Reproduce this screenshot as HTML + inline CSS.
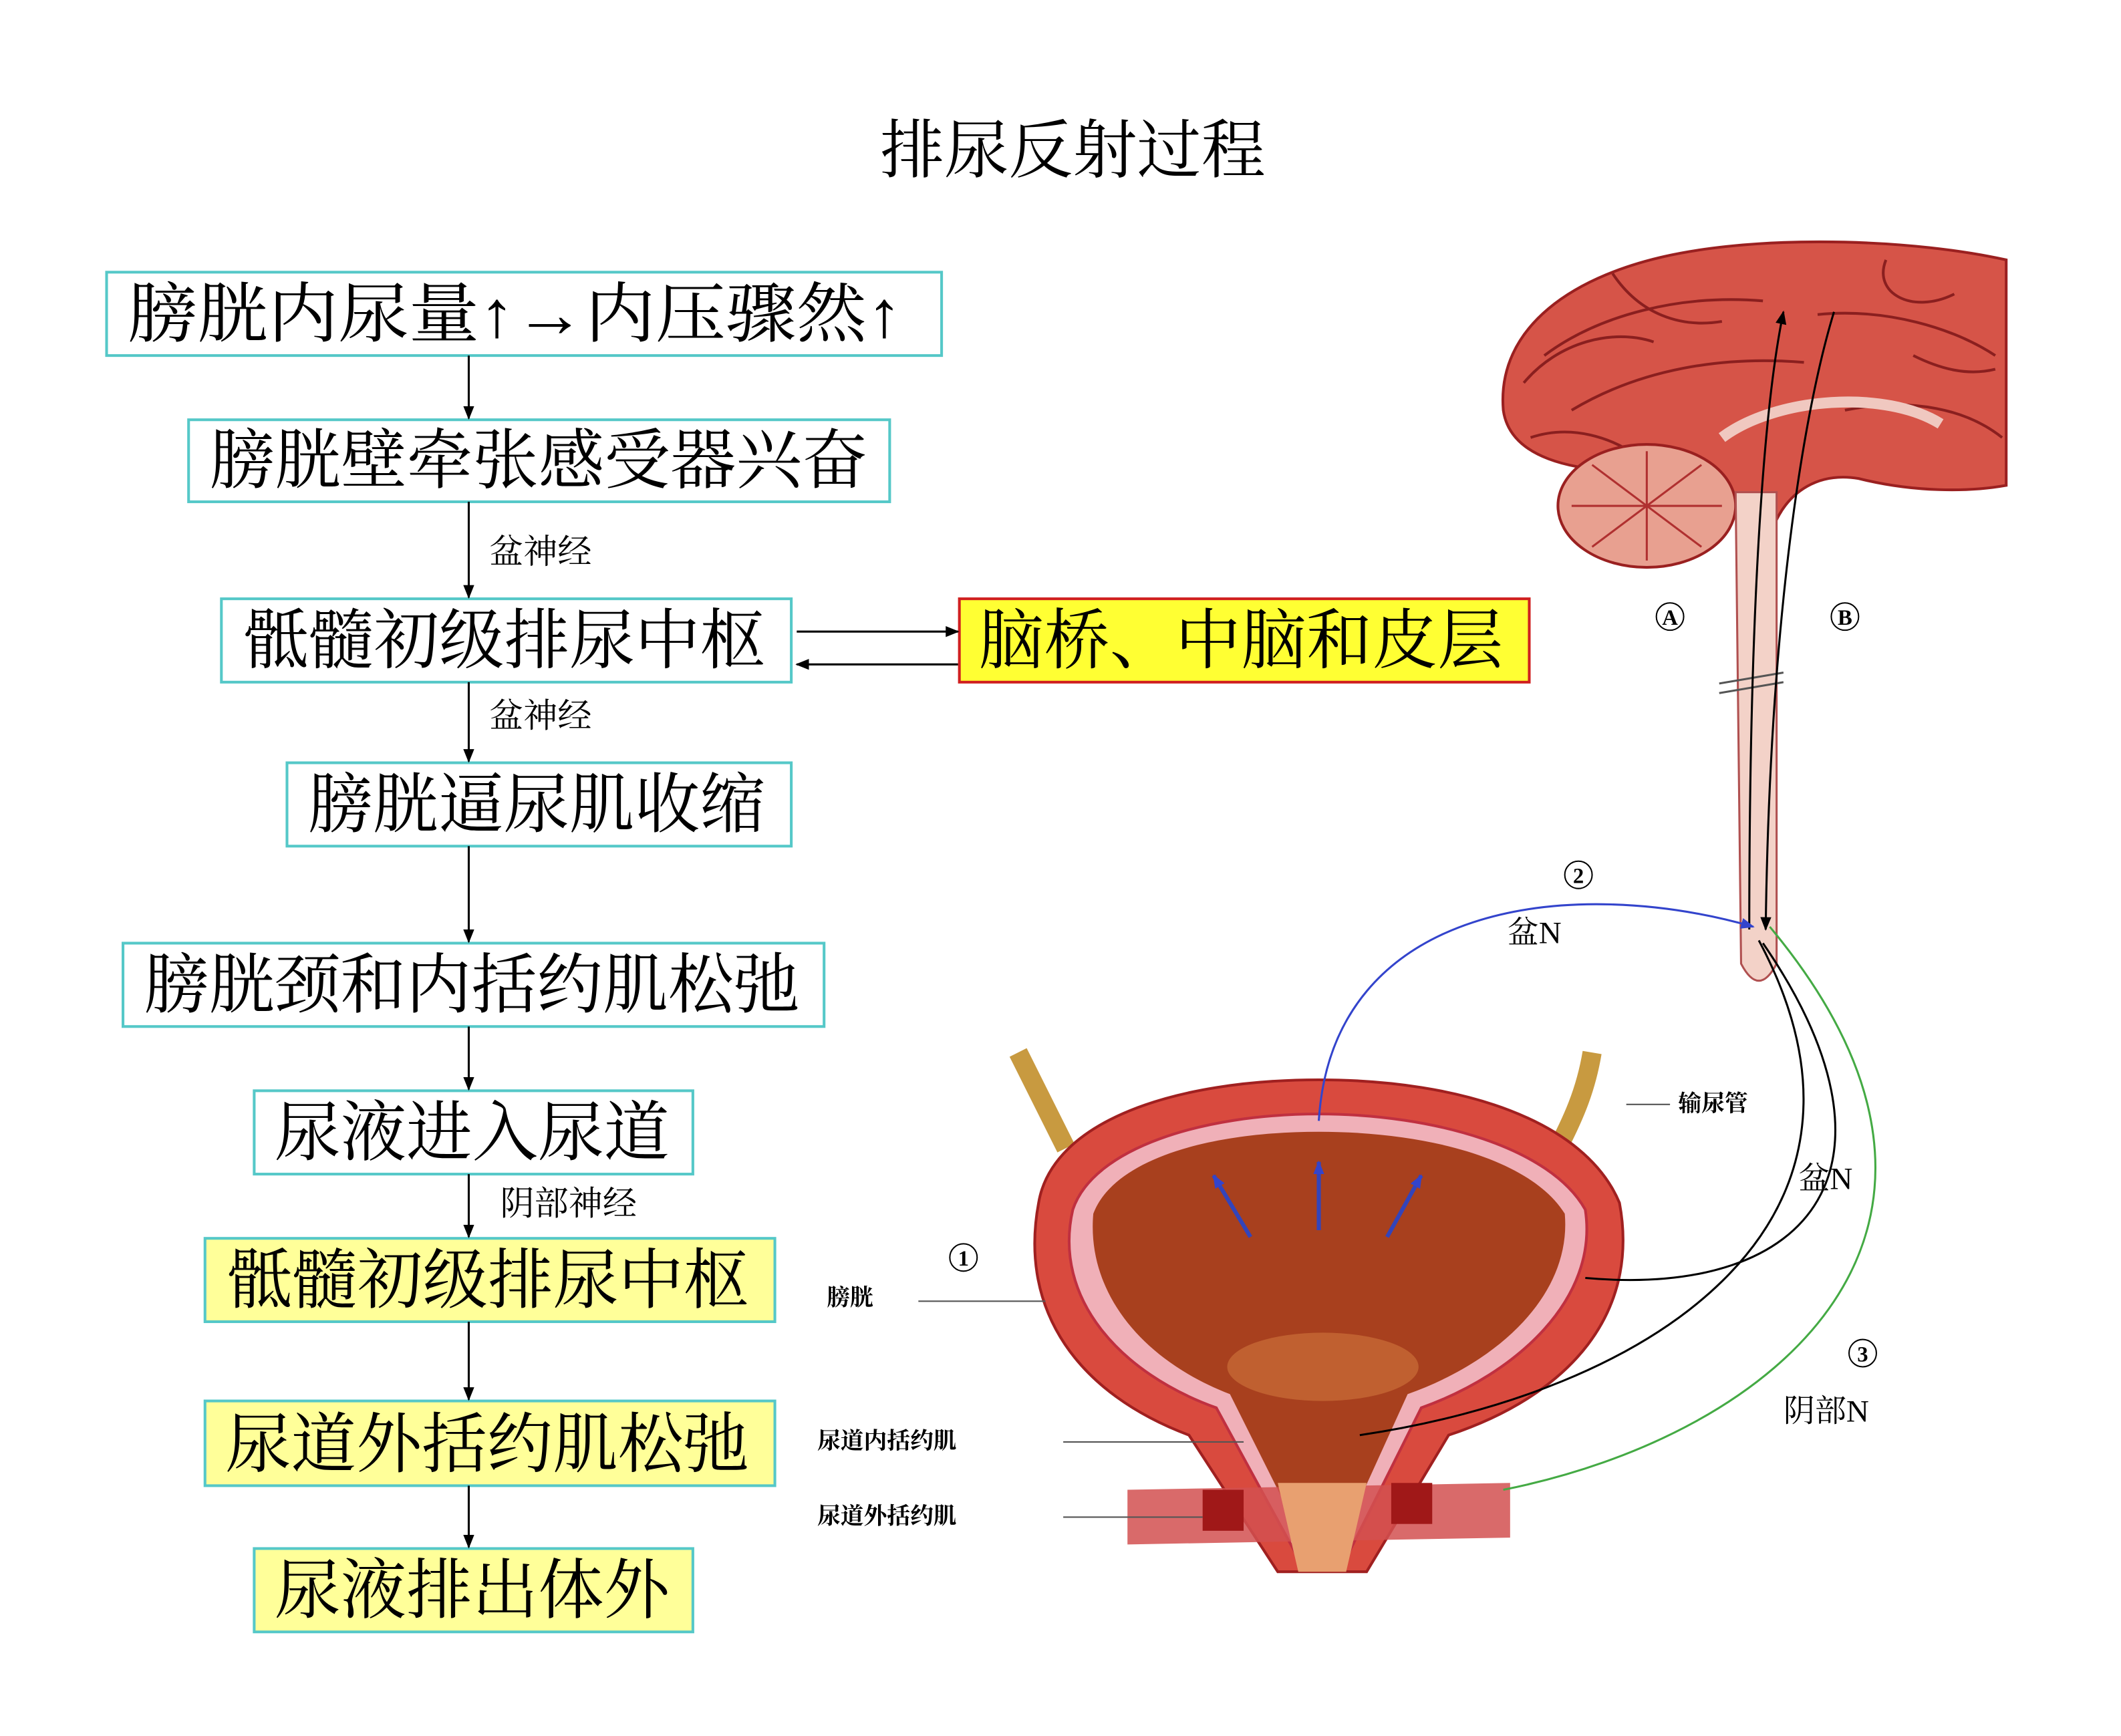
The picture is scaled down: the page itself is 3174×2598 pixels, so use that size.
<!DOCTYPE html>
<html><head><meta charset="utf-8"><style>
html,body{margin:0;padding:0;background:#fff;}
svg{display:block;}
text{font-family:"Liberation Serif","Noto Serif CJK SC","Noto Sans CJK SC",serif;}
</style></head><body>
<svg width="3174" height="2598" viewBox="0 0 1552 1270" xmlns="http://www.w3.org/2000/svg">
<defs>
<marker id="ah" markerWidth="10" markerHeight="10" refX="9" refY="5" orient="auto" markerUnits="userSpaceOnUse"><path d="M0,1 L10,5 L0,9 Z" fill="#000"/></marker>
<marker id="bh" markerWidth="10" markerHeight="10" refX="9" refY="5" orient="auto" markerUnits="userSpaceOnUse"><path d="M0,1 L10,5 L0,9 Z" fill="#3344cc"/></marker>
</defs>
<text x="785" y="126" font-size="47" text-anchor="middle">排尿反射过程</text>

<g stroke="#55c8c8" stroke-width="2">
<rect x="78" y="199" width="611" height="61" fill="#fff"/>
<rect x="138" y="307" width="513" height="60" fill="#fff"/>
<rect x="162" y="438" width="417" height="61" fill="#fff"/>
<rect x="210" y="558" width="369" height="61" fill="#fff"/>
<rect x="90" y="690" width="513" height="61" fill="#fff"/>
<rect x="186" y="798" width="321" height="61" fill="#fff"/>
<rect x="150" y="906" width="417" height="61" fill="#ffff99"/>
<rect x="150" y="1025" width="417" height="62" fill="#ffff99"/>
<rect x="186" y="1133" width="321" height="61" fill="#ffff99"/>
</g>
<rect x="702" y="438" width="417" height="61" fill="#ffff33" stroke="#d02020" stroke-width="2"/>

<g font-size="48" lengthAdjust="spacingAndGlyphs">
<text x="93" y="246" textLength="567" lengthAdjust="spacingAndGlyphs">膀胱内尿量↑→内压骤然↑</text>
<text x="153" y="353" textLength="482" lengthAdjust="spacingAndGlyphs">膀胱壁牵张感受器兴奋</text>
<text x="178" y="485" textLength="382" lengthAdjust="spacingAndGlyphs">骶髓初级排尿中枢</text>
<text x="225" y="605" textLength="335" lengthAdjust="spacingAndGlyphs">膀胱逼尿肌收缩</text>
<text x="105" y="737" textLength="480" lengthAdjust="spacingAndGlyphs">膀胱颈和内括约肌松弛</text>
<text x="201" y="845" textLength="289" lengthAdjust="spacingAndGlyphs">尿液进入尿道</text>
<text x="166" y="953" textLength="382" lengthAdjust="spacingAndGlyphs">骶髓初级排尿中枢</text>
<text x="165" y="1073" textLength="383" lengthAdjust="spacingAndGlyphs">尿道外括约肌松弛</text>
<text x="201" y="1180" textLength="289" lengthAdjust="spacingAndGlyphs">尿液排出体外</text>
<text x="716" y="485" textLength="384" lengthAdjust="spacingAndGlyphs">脑桥、中脑和皮层</text>
</g>

<g stroke="#000" stroke-width="1.5" marker-end="url(#ah)">
<line x1="343" y1="260" x2="343" y2="306"/>
<line x1="343" y1="367" x2="343" y2="437"/>
<line x1="343" y1="499" x2="343" y2="557"/>
<line x1="343" y1="619" x2="343" y2="689"/>
<line x1="343" y1="751" x2="343" y2="797"/>
<line x1="343" y1="859" x2="343" y2="905"/>
<line x1="343" y1="967" x2="343" y2="1024"/>
<line x1="343" y1="1087" x2="343" y2="1132"/>
<line x1="583" y1="462" x2="701" y2="462"/>
<line x1="701" y1="486" x2="583" y2="486"/>
</g>
<g font-size="25">
<text x="358" y="412">盆神经</text>
<text x="358" y="532">盆神经</text>
<text x="366" y="889">阴部神经</text>
</g>

<!-- brain -->
<path d="M1100,300 C1095,240 1150,200 1230,185 C1300,172 1400,175 1468,190 L1468,355 C1440,360 1400,360 1360,350 C1330,345 1310,360 1300,380 L1275,380 C1265,360 1240,350 1200,345 C1150,345 1105,335 1100,300 Z" fill="#d65448" stroke="#9a2020" stroke-width="2"/>
<path d="M1130,260 C1170,230 1230,215 1290,220 M1150,300 C1200,270 1260,260 1320,265 M1330,230 C1380,225 1430,240 1460,260 M1115,280 C1140,250 1180,240 1210,250 M1350,300 C1400,290 1440,300 1465,320 M1180,200 C1200,230 1230,240 1260,235 M1380,190 C1370,215 1400,230 1430,215 M1120,320 C1150,310 1180,320 1200,335 M1400,260 C1420,270 1440,275 1460,270" fill="none" stroke="#8a1f1f" stroke-width="2"/>
<path d="M1260,320 C1300,290 1380,285 1420,310" fill="none" stroke="#f0c8c0" stroke-width="8"/>
<ellipse cx="1205" cy="370" rx="65" ry="45" fill="#e8a090" stroke="#9a2020" stroke-width="2"/>
<path d="M1150,370 L1260,370 M1205,330 L1205,410 M1165,340 L1245,400 M1165,400 L1245,340" stroke="#b03030" stroke-width="1.5"/>
<path d="M1270,360 L1300,360 L1300,705 Q1287,730 1274,705 Z" fill="#f3d2c8" stroke="#b05050" stroke-width="1.5"/>
<line x1="1258" y1="500" x2="1305" y2="492" stroke="#555" stroke-width="1.5"/>
<line x1="1258" y1="507" x2="1305" y2="499" stroke="#555" stroke-width="1.5"/>
<path d="M1280,680 C1280,450 1290,300 1305,228" fill="none" stroke="#000" stroke-width="1.5" marker-end="url(#ah)"/>
<path d="M1342,228 C1320,300 1295,450 1292,680" fill="none" stroke="#000" stroke-width="1.5" marker-end="url(#ah)"/>
<g font-size="16" font-family="Liberation Sans" font-weight="bold" text-anchor="middle">
<circle cx="1222" cy="451" r="10" fill="none" stroke="#000"/><text x="1222" y="457">A</text>
<circle cx="1350" cy="451" r="10" fill="none" stroke="#000"/><text x="1350" y="457">B</text>
<circle cx="1155" cy="640" r="10" fill="none" stroke="#000"/><text x="1155" y="646">2</text>
<circle cx="705" cy="920" r="10" fill="none" stroke="#000"/><text x="705" y="926">1</text>
<circle cx="1363" cy="990" r="10" fill="none" stroke="#000"/><text x="1363" y="996">3</text>
</g>

<!-- bladder -->
<path d="M745,770 C760,800 770,820 780,840 M1165,770 C1160,800 1150,820 1140,840" stroke="#c89a40" stroke-width="14" fill="none"/>
<path d="M760,880 C770,820 860,790 965,790 C1070,790 1160,820 1185,880 C1200,960 1150,1020 1060,1050 L1000,1150 L935,1150 L870,1050 C790,1020 745,960 760,880 Z" fill="#d94a3e" stroke="#a02020" stroke-width="2"/>
<path d="M785,885 C800,840 880,815 965,815 C1050,815 1135,840 1160,885 C1170,950 1110,1005 1040,1030 L985,1140 L950,1140 L890,1030 C820,1005 770,950 785,885 Z" fill="#f0b0b8" stroke="#c03040" stroke-width="2"/>
<path d="M800,888 C815,848 885,828 965,828 C1045,828 1120,848 1145,888 C1150,945 1100,995 1030,1020 L980,1130 L955,1130 L900,1020 C835,995 795,945 800,888 Z" fill="#a8401e"/>
<ellipse cx="968" cy="1000" rx="70" ry="25" fill="#c06030"/>
<path d="M825,1090 L1105,1085 L1105,1125 L825,1130 Z" fill="#d25050" opacity="0.85"/>
<rect x="880" y="1090" width="30" height="30" fill="#a01818"/><rect x="1018" y="1085" width="30" height="30" fill="#a01818"/>
<path d="M935,1085 L1000,1085 L985,1150 L950,1150 Z" fill="#e8a070"/>
<g stroke="#3344bb" stroke-width="3" marker-end="url(#bh)">
<line x1="915" y1="905" x2="888" y2="860"/>
<line x1="965" y1="900" x2="965" y2="850"/>
<line x1="1015" y1="905" x2="1040" y2="860"/>
</g>
<path d="M965,820 C975,660 1150,640 1283,678" fill="none" stroke="#3344cc" stroke-width="1.5" marker-end="url(#bh)"/>
<path d="M1160,935 C1330,950 1400,850 1290,690" fill="none" stroke="#000" stroke-width="1.5"/>
<path d="M995,1050 C1200,1020 1400,900 1287,688" fill="none" stroke="#000" stroke-width="1.5"/>
<path d="M1100,1090 C1300,1050 1480,900 1295,678" fill="none" stroke="#44aa44" stroke-width="1.5"/>
<line x1="1190" y1="808" x2="1222" y2="808" stroke="#555"/>
<line x1="672" y1="952" x2="765" y2="952" stroke="#555"/>
<line x1="778" y1="1055" x2="910" y2="1055" stroke="#555"/>
<line x1="778" y1="1110" x2="880" y2="1110" stroke="#555"/>
<g font-size="23">
<text x="1103" y="690">盆N</text>
<text x="1316" y="870">盆N</text>
<text x="1305" y="1040">阴部N</text>
</g>
<g font-size="17" font-weight="bold">
<text x="1228" y="813">输尿管</text>
<text x="605" y="955">膀胱</text>
<text x="598" y="1060">尿道内括约肌</text>
<text x="598" y="1115">尿道外括约肌</text>
</g>
</svg>
</body></html>
